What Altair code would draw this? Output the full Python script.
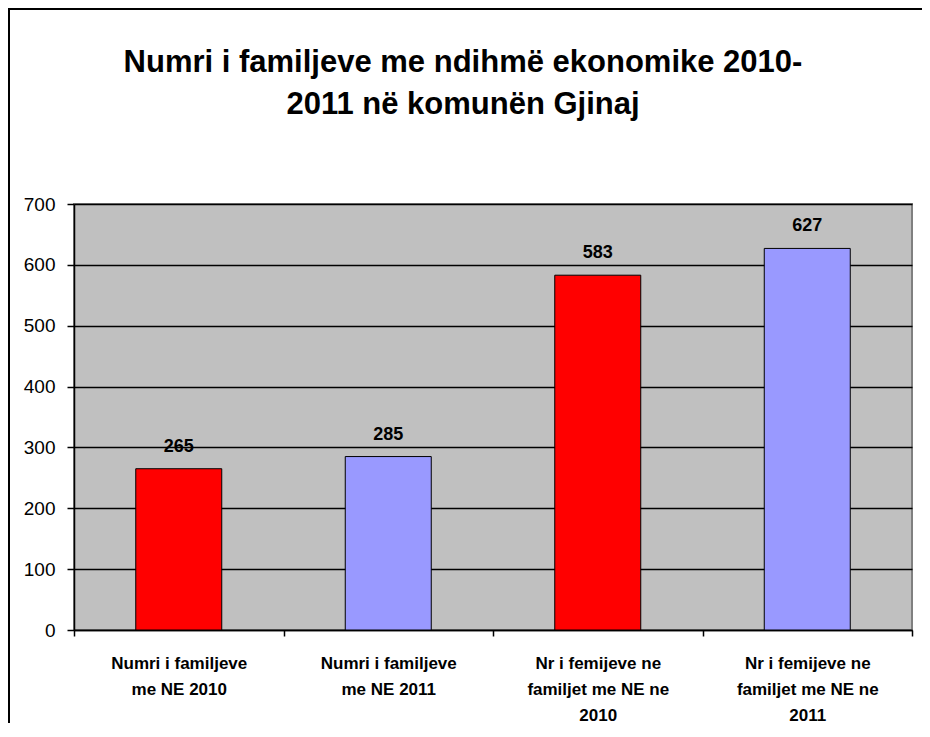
import altair as alt
import pandas as pd

categories = [
    "Numri i familjeve\nme NE 2010",
    "Numri i familjeve\nme NE 2011",
    "Nr i femijeve ne\nfamiljet me NE ne\n2010",
    "Nr i femijeve ne\nfamiljet me NE ne\n2011",
]
values = [265, 285, 583, 627]
colors = ["#FF0000", "#9999FF", "#FF0000", "#9999FF"]
title_lines = ["Numri i familjeve me ndihmë ekonomike 2010-", "2011 në komunën Gjinaj"]

df = pd.DataFrame({"cat": categories, "val": values, "color": colors})

x = alt.X("cat:N", sort=categories, title=None,
          scale=alt.Scale(paddingInner=0, paddingOuter=0),
          axis=alt.Axis(labelExpr="split(datum.label, '\\n')", labelAngle=0,
                        labelFont="Liberation Sans", labelFontWeight="bold",
                        labelFontSize=17, labelLineHeight=26, labelColor="black",
                        labelPadding=19, labelBaseline="top",
                        tickBand="extent", tickSize=6, tickColor="black", tickWidth=1.5,
                        domainColor="black", domainWidth=1.5, grid=False))
y = alt.Y("val:Q", title=None,
          scale=alt.Scale(domain=[0, 700], nice=False),
          axis=alt.Axis(values=[0, 100, 200, 300, 400, 500, 600, 700],
                        labelFont="Liberation Sans", labelFontSize=19, labelColor="black",
                        labelPadding=12, tickSize=7, tickColor="black", tickWidth=1.5,
                        domainColor="black", domainWidth=1.5,
                        grid=True, gridColor="black", gridWidth=1.5))

bars = alt.Chart(df).mark_bar(size=86, stroke="black", strokeWidth=1).encode(
    x=x, y=y, color=alt.Color("color:N", scale=None)
)
labels = alt.Chart(df).mark_text(
    font="Liberation Sans", fontWeight="bold", fontSize=18, color="black",
    baseline="alphabetic", dy=-17
).encode(x=alt.X("cat:N", sort=categories), y="val:Q", text="val:Q")

one = pd.DataFrame({"f": [0]})
title = alt.Chart(one).mark_text(
    text=title_lines, font="Liberation Sans", fontSize=31, fontWeight="bold",
    color="black", align="center", baseline="alphabetic", lineHeight=42
).encode(x=alt.value(389), y=alt.value(-132))

frame_left = alt.Chart(one).mark_rule(color="black", strokeWidth=2).encode(
    x=alt.value(-65), y=alt.value(-196), y2=alt.value(560))
frame_top = alt.Chart(one).mark_rule(color="black", strokeWidth=2).encode(
    x=alt.value(-66), x2=alt.value(900), y=alt.value(-195))

chart = alt.layer(bars, labels, title, frame_left, frame_top).properties(
    width=838, height=426,
    autosize="none",
    padding={"left": 66, "top": 196, "right": 10, "bottom": 93},
    background="white",
).configure_view(
    fill="#C0C0C0", stroke="#808080", strokeWidth=2
)

chart.save("out.html", embed_options={"renderer": "svg", "actions": False})
